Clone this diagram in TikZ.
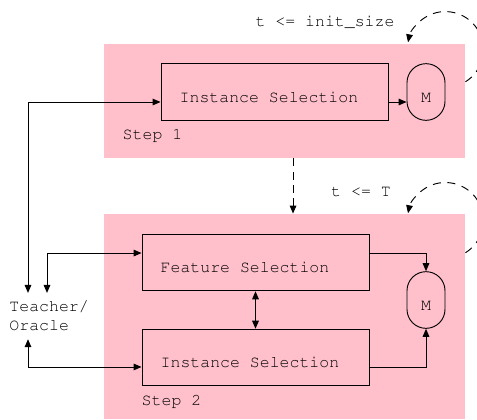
\documentclass[tikz,border=0pt]{standalone}
\usepackage[T1]{fontenc}
\renewcommand{\ttdefault}{pcr}
\usetikzlibrary{arrows.meta,calc}
\definecolor{steppink}{RGB}{255,192,203}

\begin{document}
\begin{tikzpicture}[x=0.75pt,y=0.75pt,>={Triangle[length=6pt,width=5pt]},line width=0.7pt]
		\tikzstyle{every node}=[font=\ttfamily\fontsize{12.4}{13.9}\selectfont]
		\tikzstyle{steparea}=[fill=steppink,inner sep=0pt,minimum width=270.75pt]
		\tikzstyle{selbox}=[draw,inner xsep=14pt,inner ysep=0pt,text width=142.25pt,align=flush left,text height=29pt,text depth=13.5pt]
		\tikzstyle{model}=[draw,rounded corners=14.25pt,inner sep=0pt,minimum width=28.5pt,text height=29pt,text depth=13.5pt]

		\useasboundingbox (0,0) rectangle (477,419);

		\node[steparea,minimum height=85.5pt] (step1) at (284.5,318) {};
		\node[steparea,minimum height=153.75pt] (step2) at (284.5,102.5) {};

		\node[selbox] (inst1) at (274.5,327) {Instance Selection};
		\node[model] (M1) at (426,327) {M};
		\node[selbox] (feat) at (255.5,156.5) {Feature Selection};
		\node[selbox] (inst2) at (255.5,61.5) {Instance Selection};
		\node[model] (M2) at (426,119) {M};
		\node[anchor=base west,align=flush left,inner xsep=0pt,inner ysep=6pt] (teacher) at (9,88.5) {Teacher/\\Oracle};

		\node[anchor=base] (cond1) at (325,393) {t <= init\_size};
		\node[anchor=base] (cond2) at (361,223) {t <= T};
		\node[anchor=base] (lbl1) at (152.5,280) {Step 1};
		\node[anchor=base] (lbl2) at (171.5,14) {Step 2};

		% teacher links
		\draw[<->] ($(teacher.north west)+(19,0)$) |- ([yshift=-7.5pt]inst1.west);
		\draw[<->] ($(teacher.north west)+(38,0)$) |- ([yshift=7.1pt]feat.west);
		\draw[<->] ($(teacher.south west)+(19,0)$) |- ([yshift=-7.1pt]inst2.west);

		\path[->]
			([yshift=-7.5pt]inst1.east) edge ([yshift=-7.5pt]M1.west);
		\path[<->]
			(feat) edge (inst2);
		\draw[->] ([yshift=7.1pt]feat.east) -| (M2.north);
		\draw[->] ([yshift=-7.1pt]inst2.east) -| (M2.south);

		% loops
		\path[->,dash pattern=on 6pt off 4pt]
			([xshift=6.4pt]step1.south) edge ([xshift=6.4pt]step2.north);
		\draw[->,dash pattern=on 6pt off 5pt] ([yshift=-28.7pt]step1.north east) arc[start angle=-58,end angle=169,radius=28.5pt];
		\draw[->,dash pattern=on 6pt off 5pt] ([yshift=-29.4pt]step2.north east) arc[start angle=-58,end angle=169,radius=28.5pt];
	\end{tikzpicture}
\end{document}
